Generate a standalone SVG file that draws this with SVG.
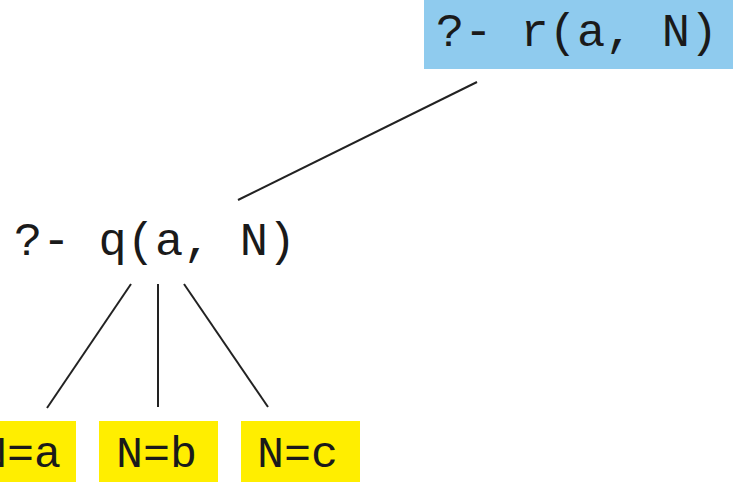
<svg xmlns="http://www.w3.org/2000/svg" width="733" height="482" viewBox="0 0 733 482">
<style>
.t{font-family:"Liberation Mono","DejaVu Sans Mono",monospace;font-size:47px;fill:#1a1a1a}
.s{font-size:45px}
.y{fill:#FFEE00}
.c{stroke:#222;stroke-width:2;fill:none}
</style>
<rect width="733" height="482" fill="#fff"/>
<g id="connectors">
<line class="c" x1="477" y1="82" x2="238" y2="200"/>
<line class="c" x1="131" y1="284" x2="47" y2="408"/>
<line class="c" x1="158" y1="284" x2="158" y2="407"/>
<line class="c" x1="184" y1="284" x2="268" y2="407"/>
</g>
<g id="r">
<rect x="424" y="0" width="309" height="69" fill="#8FCBEE"/>
<text class="t" x="436" y="46">?- r(a, N)</text>
</g>
<g id="q">
<text class="t" x="14" y="255">?- q(a, N)</text>
</g>
<g id="na">
<rect class="y" x="0" y="421" width="76" height="61"/>
<text class="t s" x="-20" y="467">N=a</text>
</g>
<g id="nb">
<rect class="y" x="99" y="421" width="119" height="61"/>
<text class="t s" x="116" y="467">N=b</text>
</g>
<g id="nc">
<rect class="y" x="241" y="421" width="119" height="61"/>
<text class="t s" x="257" y="467">N=c</text>
</g>
</svg>
